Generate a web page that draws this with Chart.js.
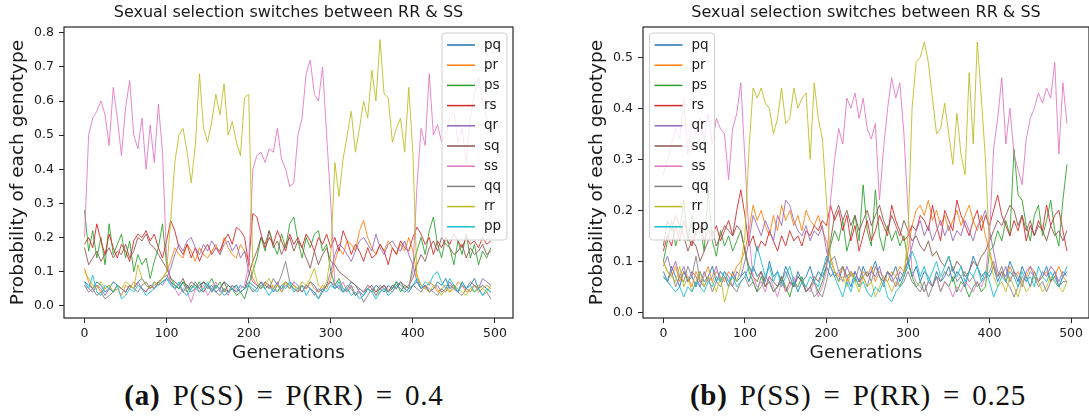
<!DOCTYPE html>
<html>
<head>
<title>Sexual selection switches between RR &amp; SS</title>
<script src="https://cdn.jsdelivr.net/npm/chart.js"></script>
<style>
  body { margin: 0; background: #ffffff; width: 1089px; height: 419px; overflow: hidden; position: relative; }
  .panel { position: absolute; top: 0; width: 540px; height: 370px; }
  #panelA { left: 0; }
  #panelB { left: 549px; }
  .caption { position: absolute; top: 379px; width: 500px; text-align: center; font-family: "Liberation Serif", serif; font-size: 29px; letter-spacing: 0.8px; word-spacing: 4px; color: #111; }
</style>
</head>
<body>
<div class="panel" id="panelA"><canvas id="chartA" width="540" height="370"></canvas></div>
<div class="panel" id="panelB"><canvas id="chartB" width="540" height="370"></canvas></div>
<div class="caption" style="left:34px;"><b>(a)</b> P(SS) = P(RR) = 0.4</div>
<div class="caption" style="left:608px;"><b>(b)</b> P(SS) = P(RR) = 0.25</div>
<script>
// genotype series, sampled every 5 generations (0..495)
const genotypes = ['pq', 'pr', 'ps', 'rs', 'qr', 'sq', 'ss', 'qq', 'rr', 'pp'];
const colors = ['#1f77b4', '#ff7f0e', '#2ca02c', '#d62728', '#9467bd', '#8c564b', '#e377c2', '#7f7f7f', '#bcbd22', '#17becf'];
const generations = Array.from({ length: 100 }, (_, i) => i * 5);
const xTicks = [0, 100, 200, 300, 400, 500];
const yTicksA = [0, 0.1, 0.2, 0.3, 0.4, 0.5, 0.6, 0.7, 0.8];
const yTicksB = [0, 0.1, 0.2, 0.3, 0.4, 0.5];
const chartTitle = 'Sexual selection switches between RR & SS';

// (a) P(SS) = P(RR) = 0.4
const pqA = [0.07,0.06,0.05,0.07,0.06,0.04,0.05,0.07,0.06,0.05,0.04,0.06,0.05,0.07,0.08,0.06,0.05,0.07,0.06,0.07,
  0.08,0.07,0.06,0.05,0.07,0.06,0.04,0.05,0.06,0.07,0.05,0.06,0.04,0.05,0.07,0.06,0.05,0.04,0.06,0.05,
  0.07,0.06,0.05,0.07,0.05,0.06,0.04,0.06,0.05,0.07,0.06,0.05,0.04,0.06,0.05,0.07,0.06,0.04,0.05,0.06,
  0.07,0.05,0.06,0.04,0.05,0.07,0.06,0.04,0.03,0.05,0.04,0.06,0.05,0.04,0.06,0.05,0.07,0.06,0.05,0.04,
  0.06,0.07,0.05,0.06,0.04,0.05,0.07,0.06,0.08,0.05,0.06,0.04,0.07,0.05,0.06,0.08,0.05,0.06,0.05,0.04];
const prA = [0.11,0.07,0.05,0.06,0.04,0.05,0.06,0.04,0.05,0.03,0.06,0.05,0.07,0.06,0.05,0.04,0.06,0.05,0.07,0.08,
  0.10,0.13,0.17,0.15,0.14,0.18,0.16,0.13,0.17,0.15,0.14,0.16,0.18,0.15,0.20,0.17,0.15,0.14,0.18,0.16,
  0.13,0.08,0.06,0.05,0.07,0.05,0.06,0.04,0.06,0.07,0.05,0.06,0.04,0.06,0.05,0.07,0.05,0.04,0.06,0.05,
  0.08,0.13,0.17,0.15,0.19,0.18,0.16,0.22,0.25,0.20,0.17,0.15,0.18,0.16,0.19,0.17,0.15,0.18,0.16,0.20,
  0.16,0.09,0.06,0.05,0.07,0.06,0.04,0.05,0.06,0.04,0.05,0.07,0.06,0.04,0.05,0.06,0.04,0.05,0.06,0.05];
const psA = [0.28,0.16,0.22,0.14,0.20,0.12,0.24,0.15,0.18,0.21,0.14,0.19,0.10,0.15,0.12,0.14,0.08,0.13,0.17,0.24,
  0.12,0.08,0.06,0.05,0.07,0.04,0.06,0.05,0.07,0.04,0.06,0.08,0.05,0.07,0.04,0.06,0.05,0.03,0.04,0.02,
  0.06,0.10,0.14,0.20,0.16,0.22,0.18,0.15,0.21,0.17,0.24,0.26,0.19,0.14,0.20,0.17,0.21,0.22,0.16,0.18,
  0.10,0.06,0.08,0.05,0.04,0.06,0.03,0.05,0.04,0.06,0.05,0.03,0.05,0.06,0.04,0.05,0.07,0.04,0.06,0.05,
  0.12,0.16,0.20,0.15,0.22,0.26,0.18,0.14,0.20,0.17,0.12,0.19,0.15,0.21,0.14,0.18,0.12,0.16,0.14,0.17];
const rsA = [0.18,0.20,0.17,0.24,0.19,0.15,0.21,0.17,0.14,0.18,0.16,0.13,0.19,0.21,0.20,0.22,0.19,0.21,0.17,0.14,
  0.19,0.25,0.22,0.17,0.15,0.18,0.14,0.17,0.13,0.16,0.18,0.15,0.17,0.16,0.19,0.21,0.18,0.23,0.22,0.20,
  0.12,0.27,0.26,0.21,0.17,0.20,0.18,0.22,0.19,0.16,0.21,0.18,0.20,0.17,0.21,0.19,0.16,0.20,0.18,0.21,
  0.17,0.20,0.16,0.22,0.19,0.15,0.18,0.16,0.13,0.17,0.14,0.15,0.18,0.16,0.12,0.17,0.15,0.19,0.17,0.16,
  0.20,0.23,0.21,0.18,0.20,0.15,0.19,0.17,0.20,0.18,0.21,0.19,0.17,0.20,0.18,0.19,0.17,0.20,0.18,0.19];
const qrA = [0.06,0.05,0.04,0.06,0.05,0.03,0.05,0.04,0.06,0.05,0.04,0.06,0.05,0.07,0.05,0.04,0.06,0.05,0.07,0.06,
  0.08,0.11,0.15,0.18,0.16,0.19,0.20,0.17,0.15,0.18,0.16,0.19,0.17,0.15,0.18,0.19,0.16,0.18,0.14,0.16,
  0.10,0.07,0.06,0.05,0.07,0.06,0.05,0.07,0.04,0.06,0.05,0.07,0.06,0.04,0.06,0.05,0.03,0.05,0.04,0.06,
  0.10,0.15,0.18,0.17,0.15,0.13,0.16,0.19,0.20,0.18,0.16,0.21,0.17,0.15,0.18,0.19,0.17,0.16,0.19,0.15,
  0.12,0.07,0.05,0.06,0.04,0.05,0.06,0.04,0.05,0.07,0.05,0.04,0.06,0.05,0.07,0.06,0.05,0.08,0.07,0.06];
const sqA = [0.17,0.12,0.14,0.16,0.13,0.15,0.17,0.14,0.16,0.15,0.18,0.14,0.16,0.20,0.19,0.21,0.18,0.17,0.15,0.13,
  0.11,0.08,0.07,0.06,0.08,0.05,0.07,0.06,0.05,0.07,0.06,0.04,0.06,0.05,0.07,0.04,0.05,0.06,0.04,0.05,
  0.09,0.13,0.16,0.20,0.18,0.22,0.17,0.19,0.15,0.18,0.20,0.16,0.19,0.17,0.14,0.11,0.16,0.12,0.15,0.17,
  0.13,0.12,0.10,0.09,0.08,0.07,0.06,0.05,0.04,0.05,0.06,0.04,0.05,0.06,0.04,0.06,0.05,0.07,0.05,0.06,
  0.08,0.12,0.15,0.13,0.17,0.19,0.16,0.20,0.18,0.17,0.15,0.16,0.18,0.14,0.17,0.15,0.16,0.18,0.15,0.16];
const ssA = [0.20,0.50,0.55,0.57,0.60,0.56,0.47,0.64,0.55,0.44,0.58,0.66,0.50,0.46,0.55,0.40,0.53,0.42,0.59,0.45,
  0.14,0.06,0.05,0.03,0.05,0.04,0.01,0.05,0.04,0.06,0.03,0.05,0.07,0.04,0.05,0.03,0.06,0.04,0.05,0.06,
  0.12,0.40,0.44,0.45,0.42,0.46,0.45,0.52,0.43,0.40,0.35,0.36,0.50,0.55,0.68,0.72,0.62,0.60,0.70,0.50,
  0.30,0.06,0.05,0.07,0.04,0.06,0.03,0.05,0.04,0.06,0.05,0.03,0.04,0.06,0.05,0.04,0.06,0.05,0.04,0.05,
  0.10,0.35,0.52,0.47,0.68,0.50,0.53,0.48,0.50,0.55,0.57,0.48,0.52,0.42,0.55,0.62,0.67,0.60,0.55,0.50];
const qqA = [0.06,0.04,0.05,0.03,0.04,0.02,0.03,0.04,0.06,0.05,0.04,0.06,0.05,0.04,0.06,0.07,0.05,0.06,0.07,0.08,
  0.09,0.07,0.05,0.06,0.04,0.06,0.05,0.07,0.05,0.04,0.06,0.05,0.04,0.03,0.05,0.04,0.06,0.05,0.04,0.05,
  0.06,0.04,0.05,0.07,0.06,0.05,0.08,0.06,0.09,0.13,0.07,0.06,0.05,0.04,0.06,0.05,0.04,0.02,0.04,0.06,
  0.07,0.06,0.05,0.04,0.06,0.05,0.03,0.04,0.01,0.03,0.05,0.04,0.06,0.05,0.04,0.06,0.05,0.07,0.06,0.05,
  0.06,0.05,0.04,0.06,0.05,0.04,0.03,0.05,0.04,0.06,0.05,0.04,0.03,0.05,0.04,0.06,0.05,0.03,0.04,0.02];
const rrA = [0.10,0.08,0.06,0.05,0.07,0.05,0.06,0.04,0.06,0.05,0.07,0.06,0.05,0.12,0.08,0.06,0.05,0.07,0.06,0.08,
  0.10,0.25,0.42,0.50,0.52,0.45,0.36,0.47,0.68,0.52,0.48,0.54,0.62,0.56,0.65,0.50,0.54,0.48,0.44,0.61,
  0.62,0.12,0.07,0.05,0.06,0.08,0.05,0.06,0.04,0.07,0.05,0.06,0.05,0.07,0.06,0.08,0.11,0.06,0.05,0.07,
  0.15,0.42,0.32,0.43,0.50,0.57,0.45,0.52,0.60,0.55,0.69,0.60,0.78,0.62,0.61,0.48,0.52,0.55,0.45,0.64,
  0.45,0.08,0.06,0.05,0.04,0.06,0.05,0.03,0.05,0.04,0.06,0.05,0.04,0.03,0.05,0.04,0.06,0.05,0.04,0.06];
const ppA = [0.07,0.05,0.09,0.04,0.03,0.06,0.05,0.04,0.06,0.02,0.03,0.05,0.04,0.06,0.05,0.03,0.04,0.05,0.06,0.07,
  0.08,0.06,0.05,0.07,0.04,0.03,0.05,0.06,0.04,0.05,0.07,0.04,0.06,0.05,0.03,0.04,0.05,0.06,0.04,0.05,
  0.06,0.05,0.04,0.06,0.05,0.03,0.05,0.04,0.06,0.05,0.07,0.04,0.05,0.06,0.03,0.05,0.04,0.02,0.05,0.04,
  0.06,0.05,0.07,0.04,0.05,0.03,0.04,0.02,0.03,0.05,0.04,0.02,0.04,0.05,0.03,0.04,0.06,0.05,0.04,0.05,
  0.06,0.08,0.05,0.07,0.06,0.09,0.10,0.07,0.05,0.08,0.06,0.04,0.07,0.05,0.06,0.04,0.05,0.03,0.05,0.04];

// (b) P(SS) = P(RR) = 0.25
const pqB = [0.08,0.06,0.09,0.07,0.05,0.08,0.06,0.07,0.05,0.08,0.06,0.07,0.09,0.06,0.08,0.07,0.05,0.08,0.06,0.07,
  0.08,0.06,0.09,0.07,0.08,0.06,0.10,0.07,0.08,0.06,0.09,0.07,0.05,0.08,0.06,0.07,0.09,0.06,0.08,0.07,
  0.09,0.07,0.08,0.06,0.09,0.07,0.05,0.08,0.06,0.09,0.07,0.08,0.10,0.07,0.06,0.08,0.07,0.09,0.06,0.08,
  0.10,0.07,0.09,0.06,0.08,0.07,0.05,0.08,0.06,0.07,0.09,0.06,0.08,0.07,0.05,0.08,0.11,0.09,0.07,0.08,
  0.07,0.09,0.06,0.08,0.07,0.10,0.08,0.06,0.09,0.07,0.05,0.08,0.06,0.07,0.09,0.06,0.08,0.05,0.07,0.08];
const prB = [0.10,0.08,0.07,0.09,0.06,0.08,0.07,0.05,0.08,0.06,0.07,0.09,0.06,0.08,0.07,0.06,0.08,0.07,0.09,0.10,
  0.12,0.16,0.21,0.18,0.20,0.17,0.15,0.19,0.16,0.21,0.18,0.20,0.17,0.19,0.16,0.20,0.18,0.17,0.19,0.16,
  0.14,0.11,0.08,0.07,0.09,0.06,0.08,0.07,0.05,0.08,0.07,0.09,0.06,0.08,0.07,0.06,0.08,0.07,0.09,0.08,
  0.12,0.17,0.20,0.21,0.19,0.22,0.18,0.20,0.17,0.19,0.16,0.18,0.20,0.17,0.19,0.21,0.18,0.16,0.19,0.15,
  0.12,0.09,0.07,0.08,0.06,0.09,0.07,0.08,0.06,0.07,0.09,0.08,0.06,0.07,0.08,0.06,0.07,0.09,0.07,0.06];
const psB = [0.10,0.14,0.18,0.13,0.16,0.22,0.14,0.19,0.15,0.17,0.12,0.24,0.14,0.11,0.16,0.13,0.15,0.12,0.14,0.16,
  0.12,0.08,0.06,0.04,0.07,0.05,0.06,0.04,0.05,0.07,0.05,0.03,0.06,0.05,0.07,0.04,0.05,0.06,0.04,0.06,
  0.09,0.13,0.16,0.14,0.18,0.12,0.15,0.19,0.14,0.25,0.16,0.13,0.24,0.15,0.12,0.17,0.14,0.16,0.13,0.15,
  0.10,0.07,0.05,0.06,0.04,0.06,0.05,0.07,0.04,0.06,0.05,0.07,0.04,0.06,0.05,0.03,0.05,0.06,0.04,0.05,
  0.12,0.13,0.16,0.14,0.18,0.15,0.32,0.23,0.22,0.17,0.14,0.19,0.21,0.15,0.18,0.22,0.16,0.13,0.22,0.29];
const rsB = [0.12,0.15,0.13,0.17,0.14,0.18,0.15,0.13,0.16,0.17,0.14,0.16,0.15,0.17,0.14,0.16,0.18,0.15,0.20,0.24,
  0.19,0.13,0.15,0.12,0.14,0.13,0.16,0.14,0.12,0.15,0.13,0.16,0.14,0.15,0.13,0.16,0.15,0.17,0.16,0.18,
  0.17,0.21,0.18,0.20,0.16,0.19,0.14,0.17,0.12,0.15,0.18,0.14,0.16,0.19,0.17,0.15,0.21,0.18,0.16,0.14,
  0.15,0.17,0.16,0.19,0.18,0.16,0.21,0.17,0.14,0.20,0.18,0.16,0.22,0.19,0.17,0.15,0.18,0.20,0.16,0.19,
  0.17,0.20,0.23,0.19,0.17,0.15,0.18,0.16,0.19,0.14,0.17,0.15,0.18,0.16,0.21,0.17,0.19,0.20,0.16,0.12];
const qrB = [0.09,0.11,0.08,0.10,0.07,0.09,0.06,0.08,0.07,0.05,0.08,0.06,0.07,0.09,0.06,0.08,0.07,0.05,0.08,0.07,
  0.10,0.14,0.19,0.17,0.15,0.18,0.16,0.14,0.19,0.17,0.22,0.21,0.18,0.16,0.15,0.17,0.14,0.16,0.15,0.17,
  0.12,0.09,0.07,0.08,0.06,0.09,0.07,0.08,0.06,0.07,0.05,0.08,0.07,0.09,0.06,0.08,0.07,0.05,0.08,0.07,
  0.10,0.13,0.16,0.18,0.15,0.17,0.14,0.16,0.18,0.15,0.17,0.14,0.16,0.15,0.18,0.16,0.14,0.17,0.18,0.20,
  0.16,0.12,0.08,0.07,0.09,0.06,0.08,0.07,0.05,0.08,0.09,0.07,0.06,0.08,0.07,0.09,0.08,0.06,0.08,0.07];
const sqB = [0.13,0.18,0.16,0.19,0.17,0.15,0.12,0.14,0.13,0.10,0.12,0.14,0.16,0.13,0.15,0.17,0.16,0.15,0.17,0.16,
  0.12,0.09,0.07,0.06,0.08,0.05,0.07,0.06,0.05,0.07,0.04,0.06,0.05,0.07,0.06,0.04,0.05,0.07,0.06,0.08,
  0.10,0.14,0.19,0.21,0.18,0.20,0.17,0.19,0.16,0.18,0.20,0.17,0.19,0.21,0.18,0.16,0.19,0.17,0.15,0.18,
  0.16,0.14,0.15,0.13,0.12,0.14,0.11,0.12,0.10,0.09,0.11,0.08,0.10,0.09,0.07,0.08,0.10,0.09,0.11,0.12,
  0.14,0.16,0.18,0.17,0.19,0.21,0.20,0.17,0.19,0.16,0.18,0.15,0.17,0.16,0.14,0.17,0.15,0.16,0.14,0.16];
const ssB = [0.27,0.30,0.33,0.36,0.34,0.42,0.31,0.37,0.35,0.38,0.34,0.39,0.33,0.38,0.36,0.35,0.26,0.36,0.39,0.45,
  0.30,0.15,0.07,0.05,0.06,0.04,0.07,0.05,0.03,0.06,0.04,0.05,0.07,0.04,0.06,0.05,0.04,0.06,0.03,0.05,
  0.08,0.22,0.30,0.36,0.33,0.42,0.40,0.43,0.38,0.42,0.36,0.34,0.37,0.22,0.32,0.40,0.46,0.42,0.45,0.35,
  0.20,0.08,0.06,0.05,0.04,0.06,0.05,0.07,0.04,0.06,0.05,0.03,0.05,0.04,0.06,0.05,0.04,0.06,0.05,0.07,
  0.15,0.32,0.38,0.46,0.33,0.40,0.31,0.28,0.25,0.34,0.38,0.40,0.43,0.41,0.44,0.42,0.49,0.31,0.45,0.37];
const qqB = [0.07,0.06,0.08,0.05,0.07,0.06,0.09,0.07,0.11,0.06,0.05,0.07,0.04,0.06,0.05,0.07,0.06,0.05,0.04,0.06,
  0.07,0.05,0.06,0.04,0.05,0.07,0.06,0.04,0.05,0.06,0.08,0.06,0.05,0.07,0.06,0.04,0.05,0.03,0.04,0.03,
  0.06,0.10,0.11,0.08,0.09,0.07,0.08,0.06,0.09,0.07,0.08,0.06,0.09,0.07,0.05,0.08,0.06,0.07,0.05,0.06,
  0.08,0.06,0.05,0.04,0.06,0.03,0.05,0.07,0.06,0.08,0.07,0.09,0.06,0.07,0.08,0.06,0.07,0.05,0.06,0.07,
  0.08,0.10,0.07,0.09,0.06,0.05,0.03,0.05,0.07,0.06,0.08,0.07,0.05,0.06,0.04,0.06,0.07,0.05,0.06,0.06];
const rrB = [0.10,0.08,0.07,0.06,0.09,0.05,0.07,0.04,0.06,0.08,0.05,0.07,0.06,0.04,0.07,0.02,0.05,0.07,0.06,0.09,
  0.15,0.32,0.44,0.42,0.44,0.41,0.40,0.35,0.38,0.44,0.37,0.38,0.44,0.40,0.42,0.43,0.30,0.45,0.38,0.34,
  0.22,0.10,0.08,0.06,0.07,0.05,0.08,0.06,0.04,0.07,0.05,0.06,0.03,0.05,0.07,0.06,0.04,0.06,0.05,0.07,
  0.15,0.40,0.49,0.50,0.53,0.49,0.42,0.35,0.36,0.41,0.35,0.29,0.39,0.31,0.27,0.47,0.33,0.53,0.42,0.30,
  0.12,0.07,0.05,0.06,0.04,0.07,0.05,0.03,0.06,0.04,0.05,0.07,0.06,0.04,0.05,0.07,0.06,0.05,0.04,0.06];
const ppB = [0.07,0.06,0.05,0.04,0.05,0.03,0.05,0.04,0.06,0.05,0.04,0.06,0.05,0.07,0.06,0.08,0.06,0.07,0.05,0.06,
  0.07,0.09,0.08,0.13,0.10,0.07,0.09,0.06,0.08,0.05,0.07,0.09,0.06,0.04,0.06,0.05,0.07,0.06,0.05,0.08,
  0.11,0.09,0.07,0.05,0.03,0.06,0.04,0.07,0.05,0.06,0.04,0.03,0.05,0.04,0.06,0.03,0.02,0.04,0.05,0.07,
  0.09,0.12,0.10,0.07,0.09,0.06,0.08,0.10,0.07,0.09,0.11,0.08,0.07,0.09,0.06,0.08,0.07,0.09,0.06,0.08,
  0.06,0.03,0.05,0.07,0.06,0.08,0.07,0.05,0.08,0.06,0.07,0.05,0.09,0.07,0.06,0.08,0.06,0.05,0.07,0.09];

const seriesA = [pqA, prA, psA, rsA, qrA, sqA, ssA, qqA, rrA, ppA];
const seriesB = [pqB, prB, psB, rsB, qrB, sqB, ssB, qqB, rrB, ppB];

const textColor = '#1a1a1a';

// axes box + title over the plot area
const frame = {
  id: 'frame',
  afterDraw(chart) {
    const { ctx, chartArea: a } = chart;
    ctx.save();
    ctx.strokeStyle = '#262626';
    ctx.lineWidth = 1.2;
    ctx.strokeRect(a.left, a.top, a.right - a.left, a.bottom - a.top);
    ctx.fillStyle = textColor;
    ctx.font = '16px "DejaVu Sans"';
    ctx.textAlign = 'center';
    ctx.textBaseline = 'middle';
    ctx.fillText(chartTitle, (a.left + a.right) / 2, 13);
    ctx.restore();
  }
};

// matplotlib-like legend box inside the plot
const boxLegend = {
  id: 'boxLegend',
  afterDatasetsDraw(chart, args, opts) {
    const { ctx, chartArea: a } = chart;
    const w = 65, h = 207;
    const x = opts.side === 'right' ? a.right - 6 - w : a.left + 6.5;
    const y = a.top + 6;
    ctx.save();
    ctx.beginPath();
    ctx.roundRect(x, y, w, h, 3);
    ctx.fillStyle = 'rgba(255,255,255,0.8)';
    ctx.fill();
    ctx.strokeStyle = '#d0d0d0';
    ctx.lineWidth = 1;
    ctx.stroke();
    ctx.font = '13.5px "DejaVu Sans"';
    ctx.textBaseline = 'middle';
    genotypes.forEach((g, i) => {
      const cy = y + 12 + i * 20.2;
      ctx.strokeStyle = colors[i];
      ctx.lineWidth = 1.5;
      ctx.beginPath();
      ctx.moveTo(x + 5, cy);
      ctx.lineTo(x + 33, cy);
      ctx.stroke();
      ctx.fillStyle = textColor;
      ctx.fillText(g, x + 42, cy);
    });
    ctx.restore();
  }
};

function makeChart(id, series, yMin, yMax, yTicks, xMax, yAxisWidth, yTitlePad, padRight, legendSide) {
  const datasets = series.map((vals, i) => ({
    label: genotypes[i],
    data: vals.map((v, j) => ({ x: generations[j], y: v })),
    borderColor: colors[i] + 'e0',
    borderWidth: 1,
    pointRadius: 0,
    tension: 0,
    fill: false,
    order: series.length - 1 - i
  }));
  return new Chart(document.getElementById(id), {
    type: 'line',
    data: { datasets },
    plugins: [frame, boxLegend],
    options: {
      responsive: false,
      animation: false,
      devicePixelRatio: 1,
      layout: { padding: { top: 27, right: padRight, left: 0, bottom: 0 } },
      plugins: {
        legend: { display: false },
        tooltip: { enabled: false },
        boxLegend: { side: legendSide }
      },
      scales: {
        x: {
          type: 'linear',
          min: -25,
          max: xMax,
          afterBuildTicks: s => { s.ticks = xTicks.map(v => ({ value: v })); },
          afterFit: s => { s.height = 52; },
          grid: { drawOnChartArea: false, drawTicks: true, tickLength: 5, color: '#262626' },
          border: { display: false },
          ticks: { color: textColor, font: { family: 'DejaVu Sans', size: 12.5 }, padding: 3, maxRotation: 0 },
          title: { display: true, text: 'Generations', color: textColor, font: { family: 'DejaVu Sans', size: 18.5 }, padding: { top: 0, bottom: 6 } }
        },
        y: {
          type: 'linear',
          min: yMin,
          max: yMax,
          afterBuildTicks: s => { s.ticks = yTicks.map(v => ({ value: v })); },
          afterFit: s => { s.width = yAxisWidth; },
          grid: { drawOnChartArea: false, drawTicks: true, tickLength: 5, color: '#262626' },
          border: { display: false },
          ticks: { color: textColor, font: { family: 'DejaVu Sans', size: 12.5 }, padding: 5, callback: v => v.toFixed(1) },
          title: { display: true, text: 'Probability of each genotype', color: textColor, font: { family: 'DejaVu Sans', size: 18.5 }, padding: { top: yTitlePad, bottom: 0 } }
        }
      }
    }
  });
}

makeChart('chartA', seriesA, -0.036, 0.817, yTicksA, 522, 64, 7, 27, 'right');
makeChart('chartB', seriesB, -0.0112, 0.5594, yTicksB, 522, 94, 37, 0, 'left');
</script>
</body>
</html>
